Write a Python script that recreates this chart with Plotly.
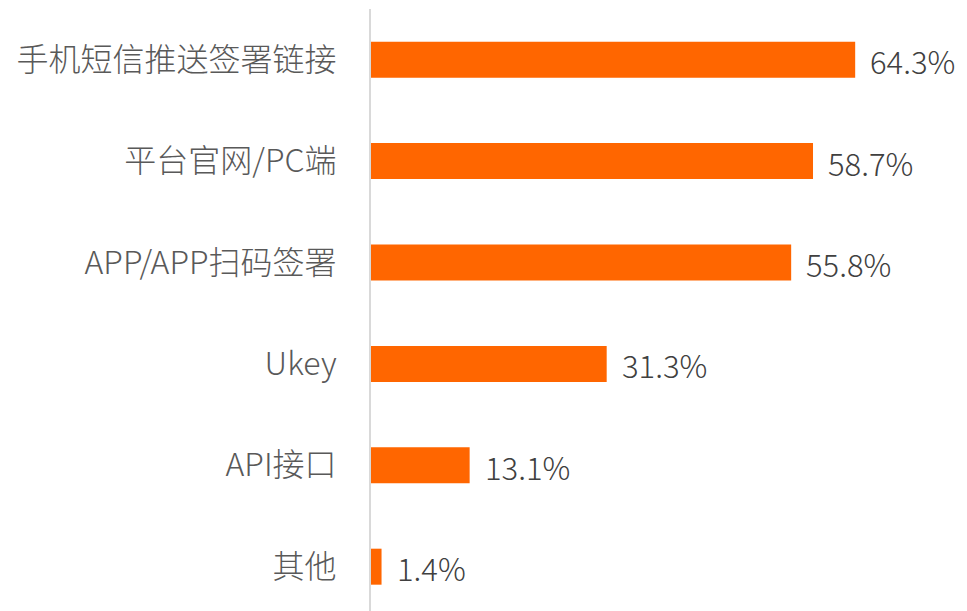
import plotly.graph_objects as go

categories = ["手机短信推送签署链接", "平台官网/PC端", "APP/APP扫码签署", "Ukey", "API接口", "其他"]
values = [64.3, 58.7, 55.8, 31.3, 13.1, 1.4]
value_labels = [f"{v:.1f}%" for v in values]

FONT = "Noto Sans CJK SC, Noto Sans, sans-serif"

fig = go.Figure()
fig.add_trace(go.Bar(
    y=categories, x=values, orientation="h",
    marker=dict(color="#FF6600", line=dict(width=0)),
    width=0.355,
    hoverinfo="skip",
))

for c, v, t in zip(categories, values, value_labels):
    fig.add_annotation(x=v, y=c, text=t, showarrow=False, xanchor="left", yanchor="middle",
                       xshift=13, yshift=-1,
                       font=dict(family=FONT, size=31, color="#404040", weight=300))

fig.update_layout(
    width=959, height=603,
    margin=dict(l=363, r=0, t=1, b=0),
    paper_bgcolor="white", plot_bgcolor="white",
    showlegend=False,
    xaxis=dict(range=[0, 79.15], visible=False, fixedrange=True),
    yaxis=dict(
        categoryorder="array", categoryarray=categories,
        range=[5.437, -0.5],
        showline=True, linecolor="#D9D9D9", linewidth=2,
        showgrid=False, zeroline=False, ticks="",
        ticklabelstandoff=26,
        tickfont=dict(family=FONT, size=32, color="#595959", weight=300),
    ),
)

fig.write_html("out.html")
